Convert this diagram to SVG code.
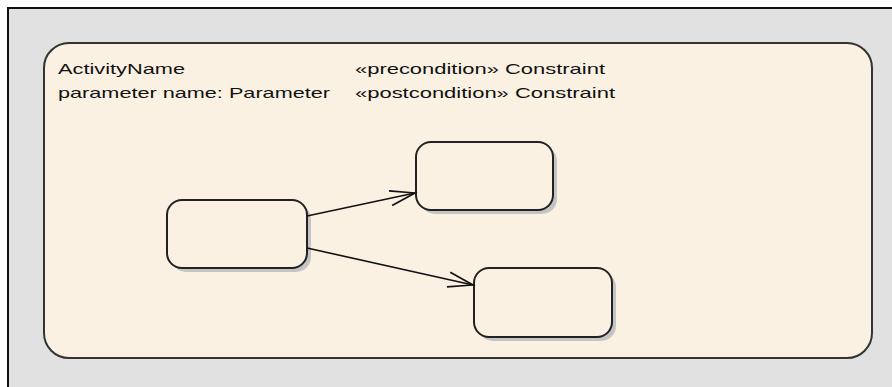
<svg xmlns="http://www.w3.org/2000/svg" width="892" height="387" viewBox="0 0 892 387">
<style>
.lbl{font-family:"Liberation Sans",Arial,sans-serif;font-size:15px;fill:#111}
.node{fill:#fbf1e3;stroke:#222;stroke-width:2}
.shadow{fill:#c4c4c4}
.conn{stroke:#111;stroke-width:1.6;fill:none}
</style>
<defs>
<marker id="open" markerUnits="userSpaceOnUse" markerWidth="30" markerHeight="20" refX="0" refY="0" viewBox="-26 -10 28 20" orient="auto" overflow="visible">
<path d="M-25,-7.5 L0,0 L-25,7.5" fill="none" stroke="#111" stroke-width="1.6"/>
</marker>
</defs>
<rect x="0" y="0" width="892" height="387" fill="#ffffff"/>
<rect x="8" y="8" width="900" height="400" fill="#e1e1e1" stroke="#111" stroke-width="2"/>
<g id="activity">
<rect x="44" y="43" width="828" height="315" rx="25" ry="25" fill="#fbf1e3" stroke="#333" stroke-width="2"/>
<text class="lbl" x="58" y="74" textLength="127" lengthAdjust="spacingAndGlyphs">ActivityName</text>
<text class="lbl" x="58" y="98" textLength="272" lengthAdjust="spacingAndGlyphs">parameter name: Parameter</text>
<text class="lbl" x="355" y="74" textLength="250" lengthAdjust="spacingAndGlyphs">«precondition» Constraint</text>
<text class="lbl" x="355" y="98" textLength="260" lengthAdjust="spacingAndGlyphs">«postcondition» Constraint</text>
</g>
<g id="nodeA">
<rect class="shadow" x="171" y="204" width="140" height="68" rx="15" ry="15"/>
<rect class="node" x="167" y="200" width="140" height="68" rx="15" ry="15"/>
</g>
<g id="nodeB">
<rect class="shadow" x="420" y="146" width="137" height="68" rx="15" ry="15"/>
<rect class="node" x="416" y="142" width="137" height="68" rx="15" ry="15"/>
</g>
<g id="nodeC">
<rect class="shadow" x="478" y="272" width="138" height="69" rx="15" ry="15"/>
<rect class="node" x="474" y="268" width="138" height="69" rx="15" ry="15"/>
</g>
<g id="connectors">
<line class="conn" x1="307" y1="216" x2="415" y2="193" marker-end="url(#open)"/>
<line class="conn" x1="307" y1="248" x2="473" y2="285" marker-end="url(#open)"/>
</g>
</svg>
